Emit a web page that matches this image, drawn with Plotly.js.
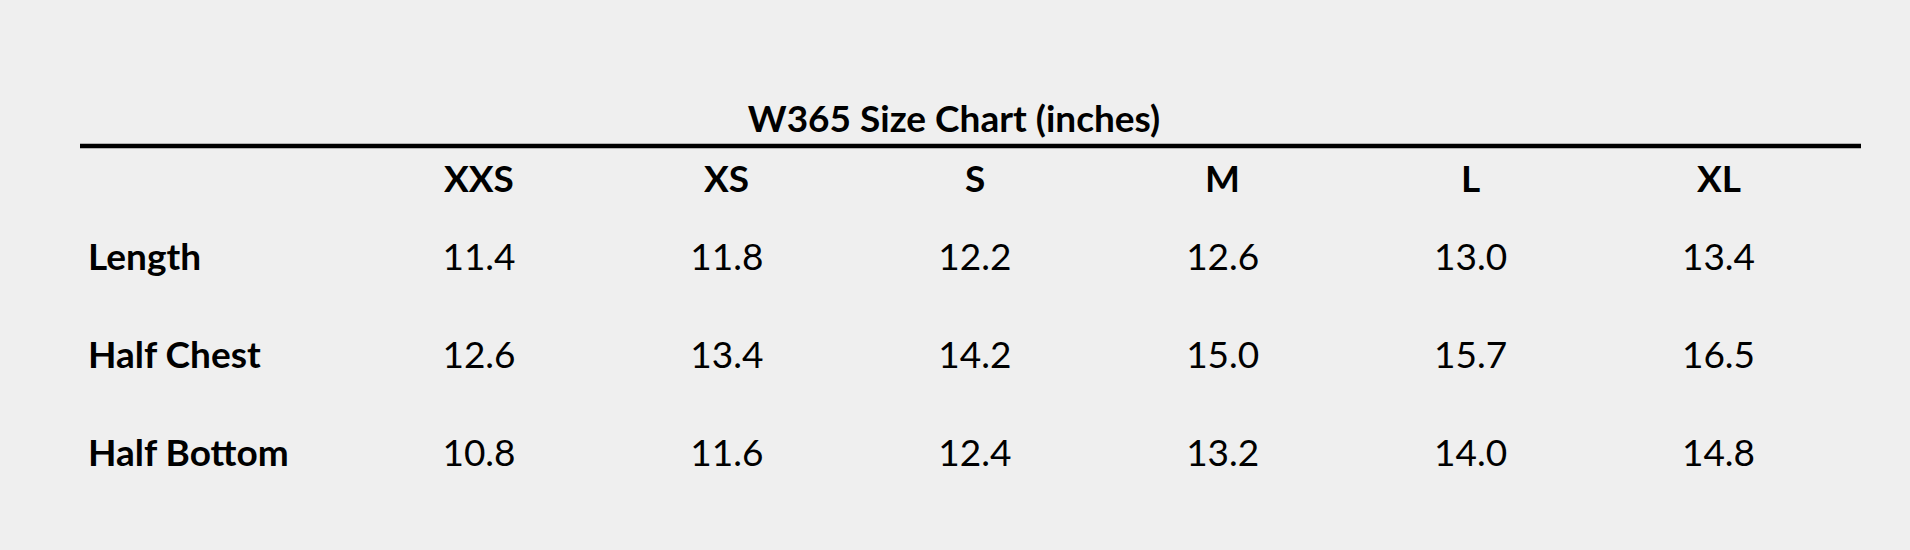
<!DOCTYPE html>
<html>
<head>
<meta charset="utf-8">
<script src="https://cdn.plot.ly/plotly-3.0.1.min.js"></script>
<style>html,body{margin:0;padding:0;background:#efefef;}</style>
</head>
<body>
<div id="chart" style="width:1910px;height:550px;"></div>
<script>
const chartTitle = "W365 Size Chart (inches)";
const sizes = ["XXS", "XS", "S", "M", "L", "XL"];
const measures = ["Length", "Half Chest", "Half Bottom"];
const lengthVals = ["11.4", "11.8", "12.2", "12.6", "13.0", "13.4"];
const halfChestVals = ["12.6", "13.4", "14.2", "15.0", "15.7", "16.5"];
const halfBottomVals = ["10.8", "11.6", "12.4", "13.2", "14.0", "14.8"];
const rowValues = [lengthVals, halfChestVals, halfBottomVals];

const FONT = "Lato, 'Open Sans', sans-serif";
const FS = 37;
const W = 1910, H = 550;

const traces = measures.map((m, i) => ({
  type: "scatter",
  mode: "text",
  x: sizes,
  y: sizes.map(() => m),
  text: rowValues[i],
  textposition: "middle center",
  textfont: {family: FONT, size: FS, color: "#000"},
  hoverinfo: "skip",
  showlegend: false
}));

const annotations = [];
sizes.forEach(s => annotations.push({
  x: s, xref: "x", y: 1 - 177.5 / H, yref: "paper",
  text: "<b>" + s + "</b>", showarrow: false,
  xanchor: "center", yanchor: "middle",
  font: {family: FONT, size: FS, color: "#000"}
}));
measures.forEach(m => annotations.push({
  x: 86 / W, xref: "paper", y: m, yref: "y", yshift: 5,
  text: "<b>" + m + "</b>", showarrow: false,
  xanchor: "left", yanchor: "middle",
  font: {family: FONT, size: FS, color: "#000"}
}));

const layout = {
  width: W, height: H,
  paper_bgcolor: "#efefef",
  plot_bgcolor: "#efefef",
  margin: {l: 0, r: 0, t: 0, b: 0},
  title: {
    text: "<b>" + chartTitle + "</b>",
    x: 954 / W, xanchor: "center",
    y: 1 - 119 / H, yanchor: "middle",
    font: {family: FONT, size: FS, color: "#000"}
  },
  xaxis: {
    type: "category", categoryarray: sizes, categoryorder: "array",
    range: [-479 / 247.9, (W - 479) / 247.9],
    showgrid: false, zeroline: false, showticklabels: false, showline: false, fixedrange: true
  },
  yaxis: {
    type: "category", categoryarray: measures, categoryorder: "array",
    range: [(H - 260.5) / 98, -260.5 / 98],
    showgrid: false, zeroline: false, showticklabels: false, showline: false, fixedrange: true
  },
  shapes: [{
    type: "line", xref: "paper", yref: "paper",
    x0: 80 / W, x1: 1861 / W, y0: 1 - 146 / H, y1: 1 - 146 / H,
    line: {color: "#000", width: 4.5}
  }],
  annotations: annotations
};

Plotly.newPlot("chart", traces, layout, {displayModeBar: false, staticPlot: true});
</script>
</body>
</html>
